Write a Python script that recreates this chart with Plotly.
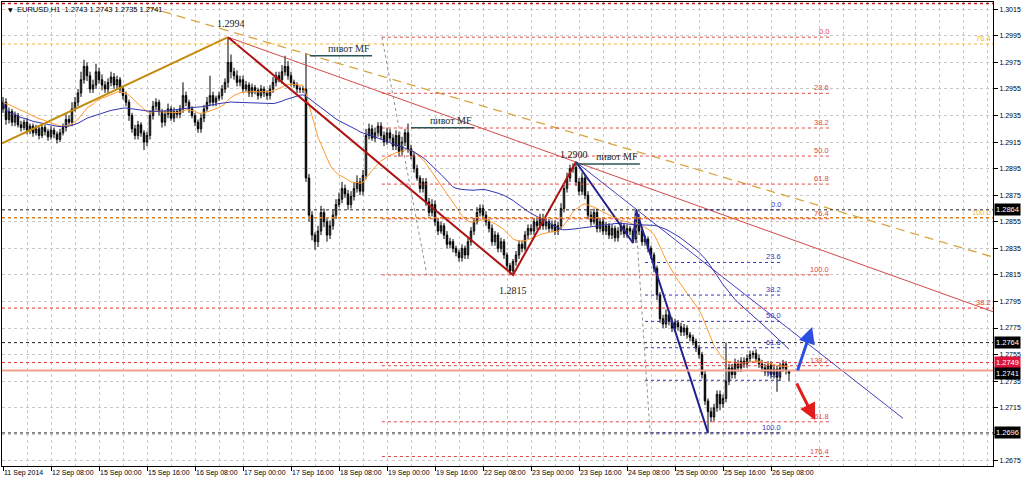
import numpy as np
import pandas as pd
import plotly.graph_objects as go

# ---------------- data ----------------
title_text = "EURUSD,H1  1.2743 1.2743 1.2735 1.2741"

x_label_bars = [0, 16, 32, 48, 64, 80, 96, 112, 128, 144, 160, 176, 192, 208, 224, 240, 256]
x_labels = ["11 Sep 2014", "12 Sep 08:00", "15 Sep 00:00", "15 Sep 16:00", "16 Sep 08:00",
            "17 Sep 00:00", "17 Sep 16:00", "18 Sep 08:00", "19 Sep 00:00", "19 Sep 16:00",
            "22 Sep 08:00", "23 Sep 00:00", "23 Sep 16:00", "24 Sep 08:00", "25 Sep 00:00",
            "25 Sep 16:00", "26 Sep 08:00"]

y_ticks = [1.2675, 1.2695, 1.2715, 1.2735, 1.2755, 1.2775, 1.2795, 1.2815, 1.2835, 1.2855,
           1.2875, 1.2895, 1.2915, 1.2935, 1.2955, 1.2975, 1.2995, 1.3015]
# 1.2695 is hidden under the 1.2696 price tag in the reference
y_tick_labels = ["1.2675", "", "1.2715", "1.2735", "1.2755", "1.2775", "1.2795", "1.2815",
                 "1.2835", "1.2855", "1.2875", "1.2895", "1.2915", "1.2935", "1.2955", "1.2975",
                 "1.2995", "1.3015"]

first_open = 1.2940
closes = [
    1.2945, 1.2932, 1.2938, 1.2930, 1.2935, 1.2928, 1.2926, 1.2930, 1.2924, 1.2927,
    1.2922, 1.2925, 1.2920, 1.2926, 1.2923, 1.2919, 1.2924, 1.2921, 1.2917, 1.2922,
    1.2926, 1.2932, 1.2930, 1.2940, 1.2945, 1.2952, 1.2962, 1.2972, 1.2965, 1.2955,
    1.2958, 1.2968, 1.2962, 1.2958, 1.2955, 1.2960, 1.2964, 1.2958, 1.2962, 1.2955,
    1.2950, 1.2945, 1.2935, 1.2925, 1.2920, 1.2928, 1.2922, 1.2915, 1.2920, 1.2935,
    1.2942, 1.2945, 1.2938, 1.2930, 1.2936, 1.2940, 1.2933, 1.2938, 1.2936, 1.2940,
    1.2950, 1.2945, 1.2940, 1.2935, 1.2930, 1.2925, 1.2933, 1.2940, 1.2945, 1.2950,
    1.2945, 1.2948, 1.2950, 1.2955, 1.2960, 1.2975, 1.2968, 1.2965, 1.2960, 1.2962,
    1.2955, 1.2958, 1.2952, 1.2956, 1.2954, 1.2950, 1.2955, 1.2952, 1.2950, 1.2955,
    1.2960, 1.2965, 1.2962, 1.2968, 1.2972, 1.2965, 1.2960, 1.2958, 1.2955, 1.2955,
    1.2955, 1.2888, 1.2860, 1.2845, 1.2840, 1.2848, 1.2862, 1.2855, 1.2845, 1.2852,
    1.2860, 1.2868, 1.2872, 1.2880, 1.2876, 1.2868, 1.2874, 1.2880, 1.2885, 1.2878,
    1.2890, 1.2920, 1.2925, 1.2918, 1.2922, 1.2927, 1.2920, 1.2915, 1.2922, 1.2918,
    1.2912, 1.2920, 1.2908, 1.2915, 1.2922, 1.2910, 1.2905, 1.2895, 1.2888, 1.2880,
    1.2885, 1.2870, 1.2862, 1.2868, 1.2855, 1.2848, 1.2852, 1.2845, 1.2838, 1.2840,
    1.2835, 1.2832, 1.2828, 1.2835, 1.2830, 1.2840, 1.2848, 1.2855, 1.2862, 1.2865,
    1.2860, 1.2855, 1.2850, 1.2840, 1.2845, 1.2835, 1.2840, 1.2830, 1.2822, 1.2818,
    1.2825, 1.2830, 1.2838, 1.2835, 1.2845, 1.2850, 1.2848, 1.2855, 1.2852, 1.2858,
    1.2852, 1.2855, 1.2850, 1.2853, 1.2848, 1.2852, 1.2865, 1.2880, 1.2888, 1.2895,
    1.2896, 1.2885, 1.2878, 1.2888, 1.2875, 1.2860, 1.2855, 1.2862, 1.2850, 1.2855,
    1.2848, 1.2852, 1.2845, 1.2850, 1.2843, 1.2848, 1.2852, 1.2846, 1.2850, 1.2848,
    1.2842, 1.2858, 1.2848, 1.2840, 1.2842, 1.2835, 1.2830, 1.2820, 1.2800, 1.2782,
    1.2778, 1.2785, 1.2780, 1.2775, 1.2779, 1.2776, 1.2772, 1.2775, 1.2770, 1.2768,
    1.2765, 1.2760, 1.2755, 1.2740, 1.2720, 1.2712, 1.2708, 1.2715, 1.2725, 1.2718,
    1.2722, 1.2735, 1.2745, 1.2740, 1.2748, 1.2745, 1.2750, 1.2748, 1.2752, 1.2755,
    1.2756, 1.2752, 1.2748, 1.2745, 1.2742, 1.2747, 1.2740, 1.2744, 1.2738, 1.2745,
    1.2748, 1.2743, 1.2741,
]
# upper / lower wick length of each bar, in pips
up_pips = [
    4, 3, 3, 2, 3, 2, 3, 2, 3, 2,   2, 3, 2, 3, 2, 2, 3, 2, 2, 3,
    3, 4, 3, 5, 4, 3, 6, 5, 3, 3,   4, 6, 3, 4, 3, 3, 4, 3, 3, 2,
    2, 3, 2, 2, 3, 3, 2, 2, 3, 4,   4, 3, 2, 2, 3, 4, 2, 3, 2, 3,
    10, 3, 2, 2, 2, 2, 3, 3, 4, 15, 3, 2, 3, 3, 3, 19, 6, 3, 4, 3,
    3, 3, 2, 3, 2, 2, 3, 2, 2, 3,   4, 3, 3, 5, 8, 4, 3, 2, 2, 2,
    2, 27, 3, 3, 2, 4, 5, 3, 3, 4,  4, 4, 5, 5, 3, 3, 4, 5, 5, 3,
    4, 5, 4, 3, 4, 3, 3, 3, 4, 3,   3, 4, 3, 4, 3, 7, 3, 3, 3, 2,
    3, 3, 3, 4, 3, 3, 3, 2, 3, 3,   2, 2, 2, 3, 2, 3, 3, 3, 4, 3,
    3, 3, 2, 3, 3, 2, 3, 2, 2, 2,   2, 3, 3, 3, 3, 3, 3, 3, 3, 3,
    3, 3, 2, 3, 3, 3, 4, 4, 4, 3,   3, 4, 3, 4, 3, 3, 3, 3, 3, 3,
    3, 3, 2, 3, 2, 3, 3, 2, 3, 2,   2, 6, 3, 2, 3, 2, 2, 2, 2, 2,
    3, 4, 3, 3, 3, 2, 3, 3, 2, 2,   2, 2, 2, 2, 3, 2, 3, 3, 3, 3,
    3, 29, 3, 3, 4, 3, 3, 3, 3, 3,  2, 3, 3, 3, 3, 3, 3, 3, 3, 4,
    3, 2, 0,
]
dn_pips = [
    3, 4, 3, 3, 3, 2, 3, 2, 3, 3,   3, 2, 3, 2, 3, 3, 2, 3, 3, 2,
    2, 3, 2, 3, 2, 3, 3, 3, 4, 3,   3, 3, 3, 4, 3, 3, 3, 3, 3, 3,
    3, 3, 4, 3, 3, 3, 3, 6, 3, 3,   3, 3, 3, 4, 3, 3, 2, 3, 3, 3,
    3, 3, 3, 2, 3, 3, 3, 3, 2, 3,   3, 3, 2, 3, 3, 4, 5, 3, 3, 3,
    3, 2, 3, 3, 3, 3, 2, 3, 3, 3,   3, 3, 2, 3, 3, 3, 3, 2, 3, 3,
    3, 3, 5, 4, 6, 4, 3, 4, 5, 3,   3, 3, 2, 3, 3, 4, 3, 3, 3, 3,
    3, 3, 3, 2, 3, 3, 3, 3, 2, 3,   3, 3, 4, 3, 3, 3, 3, 3, 2, 3,
    3, 3, 3, 3, 3, 3, 2, 3, 3, 3,   3, 3, 3, 3, 3, 3, 3, 3, 2, 3,
    3, 3, 3, 3, 3, 3, 3, 3, 3, 3,   3, 3, 3, 3, 2, 3, 3, 3, 3, 3,
    3, 3, 3, 3, 3, 3, 3, 3, 3, 3,   3, 3, 3, 3, 3, 3, 3, 2, 3, 3,
    3, 3, 3, 3, 3, 3, 3, 3, 3, 3,   3, 3, 3, 3, 3, 3, 3, 3, 4, 3,
    3, 3, 3, 3, 3, 3, 3, 3, 3, 3,   3, 3, 3, 3, 3, 16, 4, 3, 3, 5,
    3, 3, 3, 3, 3, 3, 3, 3, 3, 3,   3, 3, 3, 3, 3, 3, 3, 3, 11, 3,
    3, 3, 6,
]

# drawn objects (bar index, price)
orange_trend_x = [-0.33, 75]
orange_trend_y = [1.2914, 1.2994]
red_zigzag_x = [75, 170, 191]
red_zigzag_y = [1.2994, 1.2815, 1.2900]
navy_zigzag_x = [191, 210, 211, 235]
navy_zigzag_y = [1.2900, 1.2839, 1.2864, 1.2696]
red_trend_x = [75, 330]
red_trend_y = [1.2994, 1.27873]
gold_dash_x = [48.3, 330]
gold_dash_y = [1.30167, 1.28285]
blue_trend_x = [191, 300]
blue_trend_y = [1.2900, 1.2707]

fib_levels = [0.0, 23.6, 38.2, 50.0, 61.8, 76.4, 100.0, 138.2, 161.8, 176.4]
fib_red_p0, fib_red_p100 = 1.2994, 1.2815
fib_red_x = [126.3, 276]
fib_red_diag_x = [126.3, 141.3]
fib_blue_levels = [0.0, 23.6, 38.2, 50.0, 61.8, 76.4, 100.0]
fib_blue_p0, fib_blue_p100 = 1.2864, 1.2696
fib_blue_x = [214, 260]
fib_blue_diag_x = [210.7, 215.7]

orange_fib_levels = ["76.4", "100.0"]
orange_fib_prices = [1.29889, 1.2858]
red_full_level = ("38.2", 1.2790)

price_tags = [("1.2864", 1.2864, "#000000"), ("1.2764", 1.2764, "#000000"),
              ("1.2749", 1.2749, "#dc143c"), ("1.2741", 1.2741, "#000000"),
              ("1.2696", 1.2696, "#000000")]
black_hlines = [1.2864, 1.2764, 1.2696]
red_hline = 1.2749
salmon_hline = 1.2743

swing_labels = [("1.2994", 76, 1.3004), ("1.2815", 170, 1.28036), ("1.2900", 190.3, 1.29060)]
pivot_text = "пивот MF"
pivot_lines = [(102.3, 123.0, 1.29801), (136.0, 157.0, 1.29258), (190.7, 212.3, 1.28985)]

arrow_up = (264.7, 1.27419, 269.7, 1.27758)
arrow_down = (264.3, 1.27344, 270.7, 1.27057)

# ---------------- build ----------------
bars = list(range(len(closes)))
opens = [first_open] + closes[:-1]
highs = [max(o, c) + u / 10000 for o, c, u in zip(opens, closes, up_pips)]
lows = [min(o, c) - d / 10000 for o, c, d in zip(opens, closes, dn_pips)]
s = pd.Series(closes)
ma_fast = s.ewm(span=21, adjust=False).mean()
ma_slow = s.rolling(50, min_periods=1).mean()

FONT = "Liberation Sans"
fig = go.Figure()

fig.add_trace(go.Candlestick(
    x=bars, open=opens, high=highs, low=lows, close=closes,
    increasing=dict(line=dict(color="#000000", width=1), fillcolor="#8a8a8a"),
    decreasing=dict(line=dict(color="#000000", width=1), fillcolor="#000000"),
    whiskerwidth=0, showlegend=False, hoverinfo="skip"))

fig.add_trace(go.Scatter(x=bars, y=ma_fast, mode="lines", line=dict(color="#ff9a2e", width=1),
                         showlegend=False, hoverinfo="skip"))
fig.add_trace(go.Scatter(x=bars, y=ma_slow, mode="lines", line=dict(color="#3434b4", width=1),
                         showlegend=False, hoverinfo="skip"))

def line_trace(xs, ys, color, width, dash="solid"):
    fig.add_trace(go.Scatter(x=xs, y=ys, mode="lines", line=dict(color=color, width=width, dash=dash),
                             showlegend=False, hoverinfo="skip"))

line_trace(gold_dash_x, gold_dash_y, "#d9a441", 1.3, "9px,6px")
line_trace(red_trend_x, red_trend_y, "#d24a4a", 1)
line_trace(blue_trend_x, blue_trend_y, "#3f3fc0", 1)
line_trace(orange_trend_x, orange_trend_y, "#c38a0c", 2)
line_trace(red_zigzag_x, red_zigzag_y, "#b01212", 2)
line_trace(navy_zigzag_x, navy_zigzag_y, "#22228c", 2)

shapes = []
annotations = []

def hline_paper(y, color, dash="dot", width=1):
    shapes.append(dict(type="line", xref="paper", yref="y", x0=0, x1=1, y0=y, y1=y,
                       line=dict(color=color, width=width, dash=dash), layer="above"))

# full width horizontal lines
for yv in black_hlines:
    hline_paper(yv, "#202020")
hline_paper(red_hline, "#e0303a")
hline_paper(salmon_hline, "#f4a08a", "solid", 2)
hline_paper(orange_fib_prices[0], "#f2b53a")
hline_paper(orange_fib_prices[1], "#e0801a", "dot", 1.5)
hline_paper(red_full_level[1], "#e83030")
shapes.append(dict(type="line", xref="paper", yref="paper", x0=0, x1=1, y0=0.997, y1=0.997,
                   line=dict(color="#c01818", width=1.5, dash="dot")))

# red fibonacci
for lv in fib_levels:
    p = fib_red_p0 - lv / 100 * (fib_red_p0 - fib_red_p100)
    shapes.append(dict(type="line", xref="x", yref="y", x0=fib_red_x[0], x1=fib_red_x[1], y0=p, y1=p,
                       line=dict(color="#e04848", width=1, dash="dot")))
    annotations.append(dict(x=fib_red_x[1], y=p, xref="x", yref="y", text=f"{lv:.1f}", showarrow=False,
                            xanchor="right", yanchor="bottom", yshift=-1,
                            font=dict(family=FONT, size=7.5, color="#e04848")))
shapes.append(dict(type="line", xref="x", yref="y", x0=fib_red_diag_x[0], x1=fib_red_diag_x[1],
                   y0=fib_red_p0, y1=fib_red_p100, line=dict(color="#909090", width=1, dash="dot")))

# blue fibonacci
for lv in fib_blue_levels:
    p = fib_blue_p0 - lv / 100 * (fib_blue_p0 - fib_blue_p100)
    shapes.append(dict(type="line", xref="x", yref="y", x0=fib_blue_x[0], x1=fib_blue_x[1], y0=p, y1=p,
                       line=dict(color="#3434c0", width=1, dash="dot")))
    annotations.append(dict(x=fib_blue_x[1], y=p, xref="x", yref="y", text=f"{lv:.1f}", showarrow=False,
                            xanchor="right", yanchor="bottom", yshift=-1,
                            font=dict(family=FONT, size=7.5, color="#3434c0")))
shapes.append(dict(type="line", xref="x", yref="y", x0=fib_blue_diag_x[0], x1=fib_blue_diag_x[1],
                   y0=fib_blue_p0, y1=fib_blue_p100, line=dict(color="#909090", width=1, dash="dot")))

# right-edge level labels
for txt, p in zip(orange_fib_levels, orange_fib_prices):
    annotations.append(dict(x=1, y=p, xref="paper", yref="y", text=txt, showarrow=False,
                            xanchor="right", yanchor="bottom", yshift=-1,
                            font=dict(family=FONT, size=7.5, color="#f0b840")))
annotations.append(dict(x=1, y=red_full_level[1], xref="paper", yref="y", text=red_full_level[0],
                        showarrow=False, xanchor="right", yanchor="bottom", yshift=-1,
                        font=dict(family=FONT, size=7.5, color="#e83030")))

# pivot labels
for x0, x1, p in pivot_lines:
    shapes.append(dict(type="line", xref="x", yref="y", x0=x0, x1=x1, y0=p, y1=p,
                       line=dict(color="#2b5656", width=1.5)))
    annotations.append(dict(x=x1, y=p, xref="x", yref="y", text=pivot_text, showarrow=False,
                            xanchor="right", yanchor="bottom", yshift=0,
                            font=dict(family="Liberation Serif", size=10, color="#1f2f2f")))

for txt, bx, p in swing_labels:
    annotations.append(dict(x=bx, y=p, xref="x", yref="y", text=txt, showarrow=False,
                            font=dict(family="Liberation Serif", size=10, color="#1a1a1a")))

# arrows
for (ax_, ay_, hx, hy), col in [(arrow_up, "#2d4fe0"), (arrow_down, "#e21c1c")]:
    annotations.append(dict(x=hx, y=hy, ax=ax_, ay=ay_, xref="x", yref="y", axref="x", ayref="y",
                            text="", showarrow=True, arrowhead=2, arrowsize=1.1, arrowwidth=3,
                            arrowcolor=col))

# price tags on the axis
for txt, p, col in price_tags:
    annotations.append(dict(x=1.0015, y=p, xref="paper", yref="y", text=txt, showarrow=False,
                            xanchor="left", yanchor="middle", bgcolor=col, borderpad=1,
                            font=dict(family=FONT, size=7.5, color="#ffffff")))

# title
annotations.append(dict(x=0.004, y=0.983, xref="paper", yref="paper", text="▼", showarrow=False,
                        xanchor="left", yanchor="middle", font=dict(family="DejaVu Sans", size=6, color="#000000")))
annotations.append(dict(x=0.013, y=0.983, xref="paper", yref="paper", text=title_text, showarrow=False,
                        xanchor="left", yanchor="middle", font=dict(family=FONT, size=7.5, color="#000000")))

fig.update_layout(
    width=1024, height=482,
    margin=dict(l=2, r=31, t=2, b=16),
    paper_bgcolor="#ffffff", plot_bgcolor="#ffffff",
    showlegend=False, hovermode=False,
    shapes=shapes, annotations=annotations,
    xaxis=dict(range=[-0.333, 330], tickmode="array", tickvals=x_label_bars, ticktext=x_labels,
               ticks="outside", ticklen=4, tickcolor="#000000", ticklabelposition="outside right",
               tickangle=0, automargin=False,
               tickfont=dict(family=FONT, size=7, color="#000000"),
               showgrid=True, gridcolor="#c8c8c8", griddash="dot", gridwidth=1,
               minor=dict(tickmode="linear", tick0=0, dtick=8, showgrid=True, gridcolor="#c8c8c8",
                          griddash="dot", ticks=""),
               showline=True, linecolor="#000000", linewidth=1, mirror=True,
               rangeslider=dict(visible=False), zeroline=False, fixedrange=True),
    yaxis=dict(side="right", range=[1.26711, 1.30205], tickmode="array", tickvals=y_ticks,
               ticktext=y_tick_labels, ticks="outside", ticklen=4, tickcolor="#000000",
               automargin=False,
               tickfont=dict(family=FONT, size=7, color="#000000"),
               showgrid=True, gridcolor="#c8c8c8", griddash="dot", gridwidth=1,
               showline=True, linecolor="#000000", linewidth=1, mirror=True,
               zeroline=False, fixedrange=True),
)

fig.write_html("out.html", config={"displayModeBar": False},
               post_script="document.body.style.margin='0';document.body.style.overflow='hidden';")
